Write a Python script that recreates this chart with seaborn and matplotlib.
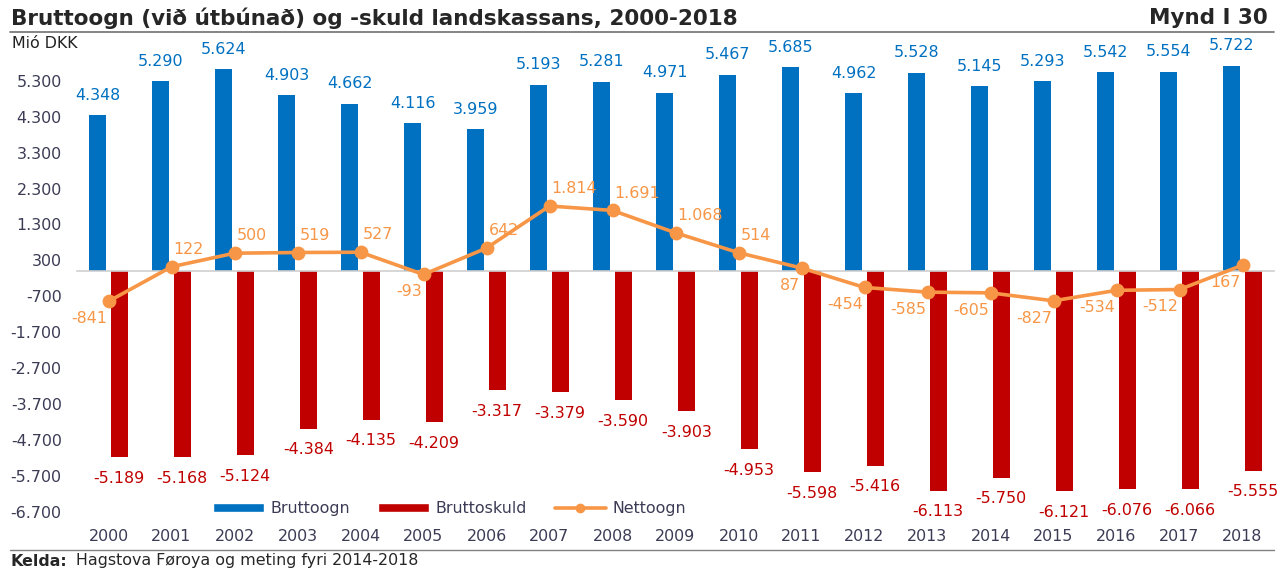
import matplotlib
matplotlib.use("Agg")
import matplotlib.pyplot as plt
import seaborn as sns
import pandas as pd
from matplotlib.patches import Patch
from matplotlib.lines import Line2D

# Data (Mió DKK)
years = [str(y) for y in range(2000, 2019)]
bruttoogn = [4348, 5290, 5624, 4903, 4662, 4116, 3959, 5193, 5281, 4971,
             5467, 5685, 4962, 5528, 5145, 5293, 5542, 5554, 5722]
bruttoskuld = [-5189, -5168, -5124, -4384, -4135, -4209, -3317, -3379, -3590, -3903,
               -4953, -5598, -5416, -6113, -5750, -6121, -6076, -6066, -5555]
nettoogn = [-841, 122, 500, 519, 527, -93, 642, 1814, 1691, 1068,
            514, 87, -454, -585, -605, -827, -534, -512, 167]
y_ticks = list(range(-6700, 5301, 1000))

# where each Nettoogn label sits relative to its marker
nett_side = ['dl', 'ur', 'ur', 'ur', 'ur', 'dl', 'ur', 'ur', 'ur', 'ur',
             'ur', 'dl', 'dl', 'dl', 'dl', 'dl', 'dl', 'dl', 'dl']

BLUE = '#0070C0'
RED = '#C00000'
ORANGE = '#F79646'
SLATE = '#3b3b55'
FS = 11.4


def fmt(v):
    return f"{v:,}".replace(',', '.')


sns.set_style('white')
plt.rcParams['font.family'] = ['DejaVu Sans']

df = pd.DataFrame({
    'year': years * 2,
    'value': bruttoogn + bruttoskuld,
    'series': ['Bruttoogn'] * len(years) + ['Bruttoskuld'] * len(years),
})
df_net = pd.DataFrame({'year': years, 'value': nettoogn})

fig = plt.figure(figsize=(12.84, 5.71), dpi=100)
ax = fig.add_axes([77 / 1284, 1 - 526 / 571, 1197 / 1284, 481 / 571])

sns.barplot(data=df, x='year', y='value', hue='series', order=years,
            palette=[BLUE, RED], width=0.68, gap=0.2, errorbar=None,
            legend=False, ax=ax, saturation=1, edgecolor='none')

sns.pointplot(data=df_net, x='year', y='value', order=years, color=ORANGE,
              errorbar=None, markers='o', linewidth=2.6, markersize=8, ax=ax)
for ln in ax.lines:
    ln.set_zorder(5)

# bar labels
cont_b, cont_r = ax.containers[0], ax.containers[1]
ax.bar_label(cont_b, labels=[fmt(v) for v in bruttoogn], padding=9,
             color=BLUE, fontsize=FS)
ax.bar_label(cont_r, labels=[fmt(v) for v in bruttoskuld], padding=10,
             color=RED, fontsize=FS)

# line labels
for i, (v, side) in enumerate(zip(nettoogn, nett_side)):
    if side == 'ur':
        ax.annotate(fmt(v), (i, v), xytext=(1.5, 12.5), textcoords='offset points',
                    ha='left', va='center', color=ORANGE, fontsize=FS, zorder=6)
    else:
        ax.annotate(fmt(v), (i, v), xytext=(-1, -12.5), textcoords='offset points',
                    ha='right', va='center', color=ORANGE, fontsize=FS, zorder=6)

ax.set_ylim(-7100, 6300)
ax.set_xlim(-0.5, len(years) - 0.5)
ax.set_yticks(y_ticks)
ax.set_yticklabels([fmt(t) for t in y_ticks])
ax.tick_params(axis='y', length=0, pad=11, labelsize=FS, labelcolor=SLATE)
ax.set_xlabel('')
ax.set_ylabel('')

for s in ['left', 'right', 'top']:
    ax.spines[s].set_visible(False)
ax.spines['bottom'].set_position(('data', 0))
ax.spines['bottom'].set_color('#cfcfcf')
ax.spines['bottom'].set_linewidth(1.2)
ax.set_xticks([i - 0.5 for i in range(len(years) + 1)], minor=True)
ax.tick_params(axis='x', which='major', length=0, labelbottom=False)
ax.tick_params(axis='x', which='minor', length=6, direction='inout',
               color='#cfcfcf', width=1.2)

sec = ax.secondary_xaxis('bottom')
sec.set_xticks(range(len(years)), labels=years)
sec.spines['bottom'].set_visible(False)
sec.tick_params(length=0, pad=2, labelsize=FS, labelcolor=SLATE)

# legend
handles = [Patch(facecolor=BLUE), Patch(facecolor=RED),
           Line2D([0], [0], color=ORANGE, lw=2.6, marker='o', ms=6)]
leg = ax.legend(handles, ['Bruttoogn', 'Bruttoskuld', 'Nettoogn'], ncol=3,
                loc='center', bbox_to_anchor=(0.35, 0.11),
                bbox_transform=fig.transFigure, frameon=False, fontsize=FS,
                handlelength=3.2, handleheight=0.5, columnspacing=1.8,
                handletextpad=0.4)
for t in leg.get_texts():
    t.set_color(SLATE)

# titles and frame lines
fig.text(11 / 1284, 1 - 18 / 571, 'Bruttoogn (við útbúnað) og -skuld landskassans, 2000-2018',
         fontsize=15.5, fontweight='bold', va='center', ha='left')
fig.text(1268 / 1284, 1 - 18 / 571, 'Mynd I 30', fontsize=15.5,
         fontweight='bold', va='center', ha='right')
fig.add_artist(Line2D([10 / 1284, 1274 / 1284], [1 - 32 / 571, 1 - 32 / 571],
                      color='#707070', lw=1.2))
fig.text(12 / 1284, 1 - 43 / 571, 'Mió DKK', fontsize=FS, va='center', ha='left',
         color='#222222')
fig.add_artist(Line2D([10 / 1284, 1274 / 1284], [1 - 550 / 571, 1 - 550 / 571],
                      color='#808080', lw=1.0))
fig.text(10 / 1284, 1 - 561 / 571, 'Kelda:', fontsize=FS, fontweight='bold',
         va='center', ha='left')
fig.text(76 / 1284, 1 - 561 / 571, 'Hagstova Føroya og meting fyri 2014-2018',
         fontsize=FS, va='center', ha='left')

fig.savefig('out.png', dpi=100)
